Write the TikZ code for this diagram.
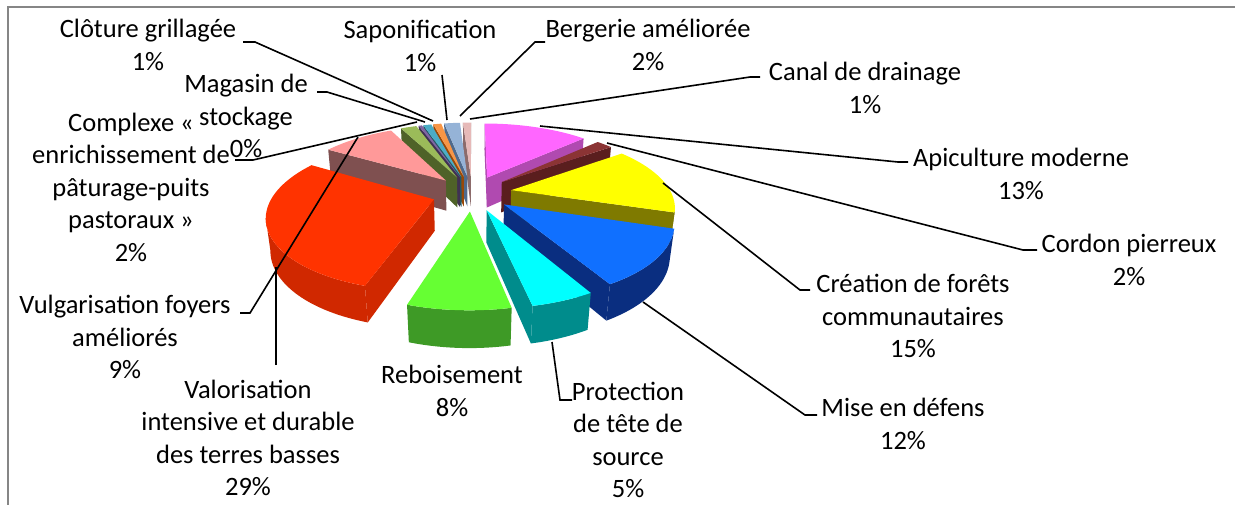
\documentclass[tikz,border=0pt]{standalone}
\usepackage{fontspec}
\setmainfont{Carlito}
\usetikzlibrary{calc}

\definecolor{apiTop}{HTML}{FF66FF}   \definecolor{apiSide}{HTML}{B04AB0}
\definecolor{corTop}{HTML}{8B3434}   \definecolor{corSide}{HTML}{5A1E1E}
\definecolor{creTop}{HTML}{FFFF00}   \definecolor{creSide}{HTML}{7F7A00}
\definecolor{misTop}{HTML}{1070FF}   \definecolor{misSide}{HTML}{0A2E80}
\definecolor{proTop}{HTML}{00FFFF}   \definecolor{proSide}{HTML}{008C8C}
\definecolor{rebTop}{HTML}{66FF33}   \definecolor{rebSide}{HTML}{3E9A26}
\definecolor{valTop}{HTML}{FF3300}   \definecolor{valSide}{HTML}{D02800}
\definecolor{vulTop}{HTML}{FF9999}   \definecolor{vulSide}{HTML}{7F5050}
\definecolor{comTop}{HTML}{9BBB59}   \definecolor{comSide}{HTML}{4F6228}
\definecolor{magTop}{HTML}{8064A2}   \definecolor{magSide}{HTML}{403152}
\definecolor{cloTop}{HTML}{4BACC6}   \definecolor{cloSide}{HTML}{215967}
\definecolor{sapTop}{HTML}{F79646}   \definecolor{sapSide}{HTML}{984807}
\definecolor{berTop}{HTML}{95B3D7}   \definecolor{berSide}{HTML}{4F6A8C}
\definecolor{canTop}{HTML}{E6B9B8}   \definecolor{canSide}{HTML}{8C6B6B}
\definecolor{frameGray}{HTML}{868686}

% one exploded slice: start angle, end angle, top colour, side colour
\newcommand{\pieslice}[4]{%
  \pgfmathsetmacro{\slMid}{(#1+#2)/2}%
  \pgfmathsetmacro{\slEx}{0.25*sin(\slMid)}%
  \pgfmathsetmacro{\slEz}{0.25*cos(\slMid)}%
  \coordinate (T) at ({scrx(\slEx,0,\slEz)},{scry(\slEx,0,\slEz)});
  \coordinate (B) at ({scrx(\slEx,-0.22,\slEz)},{scry(\slEx,-0.22,\slEz)});
  \coordinate (T1) at ({scrx(sin(#1)+\slEx,0,cos(#1)+\slEz)},{scry(sin(#1)+\slEx,0,cos(#1)+\slEz)});
  \coordinate (B1) at ({scrx(sin(#1)+\slEx,-0.22,cos(#1)+\slEz)},{scry(sin(#1)+\slEx,-0.22,cos(#1)+\slEz)});
  \coordinate (T2) at ({scrx(sin(#2)+\slEx,0,cos(#2)+\slEz)},{scry(sin(#2)+\slEx,0,cos(#2)+\slEz)});
  \coordinate (B2) at ({scrx(sin(#2)+\slEx,-0.22,cos(#2)+\slEz)},{scry(sin(#2)+\slEx,-0.22,cos(#2)+\slEz)});
  % rounded side, only the part turned to the viewer
  \pgfmathsetmacro{\slLo}{max(#1,104)}%
  \pgfmathsetmacro{\slHi}{min(#2,256)}%
  \ifdim\slLo pt<\slHi pt
    \fill[#4] plot[domain=\slLo:\slHi, samples=40] ({scrx(sin(\x)+\slEx,0,cos(\x)+\slEz)},{scry(sin(\x)+\slEx,0,cos(\x)+\slEz)})
      -- plot[domain=\slHi:\slLo, samples=40] ({scrx(sin(\x)+\slEx,-0.22,cos(\x)+\slEz)},{scry(sin(\x)+\slEx,-0.22,cos(\x)+\slEz)}) -- cycle;
  \fi
  % flat sides
  \pgfmathsetmacro{\slVa}{\slEx*cos(#1)-(4.05+\slEz)*sin(#1)}%
  \ifdim\slVa pt>0pt \fill[#4] (T) -- (T1) -- (B1) -- (B) -- cycle; \fi
  \pgfmathsetmacro{\slVb}{(4.05+\slEz)*sin(#2)-\slEx*cos(#2)}%
  \ifdim\slVb pt>0pt \fill[#4] (T) -- (T2) -- (B2) -- (B) -- cycle; \fi
  % top
  \fill[#3] (T) -- plot[domain=#1:#2, samples=40] ({scrx(sin(\x)+\slEx,0,cos(\x)+\slEz)},{scry(sin(\x)+\slEx,0,cos(\x)+\slEz)}) -- cycle;
}

\tikzset{
  lbl/.style={font={\fontsize{26.5}{32.5}\selectfont}, align=center, inner sep=0pt},
  lead/.style={black, line width=1.6pt},
}

\begin{document}
\begin{tikzpicture}[x=1pt, y=-1pt,
  declare function={scrx(\X,\Y,\Z)=472+720*\X/(4.5+0.9*\Z-0.44*\Y);
                    scry(\X,\Y,\Z)=193-720*(0.9*\Y+0.44*\Z)/(4.5+0.9*\Z-0.44*\Y);}]
\useasboundingbox (0,0) rectangle (1235,504);
\draw[frameGray, line width=1.8pt] (1240,7) -- (8,7) -- (8,510);

% slices, from the back to the front
\pieslice{356.4}{360}{canTop}{canSide}
\pieslice{349.3}{356.4}{berTop}{berSide}
\pieslice{345.7}{349.3}{sapTop}{sapSide}
\pieslice{342.1}{345.7}{cloTop}{cloSide}
\pieslice{340.6}{342.1}{magTop}{magSide}
\pieslice{333.5}{340.6}{comTop}{comSide}
\pieslice{0}{46.6}{apiTop}{apiSide}
\pieslice{301.2}{333.5}{vulTop}{vulSide}
\pieslice{46.6}{53.8}{corTop}{corSide}
\pieslice{53.8}{107.6}{creTop}{creSide}
\pieslice{197.2}{301.2}{valTop}{valSide}
\pieslice{107.6}{150.6}{misTop}{misSide}
\pieslice{150.6}{168.5}{proTop}{proSide}
\pieslice{168.5}{197.2}{rebTop}{rebSide}

% labels
\node[lbl] (lClo) at (148,45) {Clôture grillagée\\1\%};
\node[lbl] (lSap) at (420,46) {Saponification\\1\%};
\node[lbl] (lBer) at (648,45) {Bergerie améliorée\\2\%};
\node[lbl] (lCan) at (865,88) {Canal de drainage\\1\%};
\node[lbl] (lMag) at (246,116) {Magasin de\\stockage\\0\%};
\node[lbl] (lCom) at (131,187) {Complexe «\\enrichissement de\\pâturage-puits\\pastoraux »\\2\%};
\node[lbl] (lVul) at (125,337) {Vulgarisation foyers\\améliorés\\9\%};
\node[lbl] (lVal) at (248,438) {Valorisation\\intensive et durable\\des terres basses\\29\%};
\node[lbl] (lReb) at (452,391) {Reboisement\\8\%};
\node[lbl] (lPro) at (628,440) {Protection\\de tête de\\source\\5\%};
\node[lbl] (lMis) at (903,424) {Mise en défens\\12\%};
\node[lbl] (lCre) at (913,316) {Création de forêts\\communautaires\\15\%};
\node[lbl] (lCor) at (1129,260) {Cordon pierreux\\2\%};
\node[lbl] (lApi) at (1021,174) {Apiculture moderne\\13\%};

% leader lines
\coordinate (aClo) at (243,42);   \coordinate (sClo) at (433,121);
\coordinate (aSap) at (442,75);   \coordinate (sSap) at (447,120);
\coordinate (aBer) at (545,42);   \coordinate (sBer) at (460,116);
\coordinate (aCan) at (760,77);   \coordinate (sCan) at (470,119);
\coordinate (aMag) at (317,92);   \coordinate (sMag) at (425,122);
\coordinate (aCom) at (235,160);  \coordinate (sCom) at (417,122);
\coordinate (aVul) at (240,313);  \coordinate (sVul) at (358,137);
\coordinate (aVal) at (276,365);  \coordinate (sVal) at (276,267);
\coordinate (aPro) at (572,400);  \coordinate (sPro) at (552,342);
\coordinate (aMis) at (817,415);  \coordinate (sMis) at (643,302);
\coordinate (aCre) at (810,290);  \coordinate (sCre) at (663,183);
\coordinate (aCor) at (1037,250); \coordinate (sCor) at (607,143);
\coordinate (aApi) at (908,162);  \coordinate (sApi) at (540,126);

\draw[lead] (aClo) -- ++(12,0) -- (sClo);
\draw[lead] (aSap) -- (sSap);
\draw[lead] (aBer) -- ++(-10,0) -- (sBer);
\draw[lead] (aCan) -- ++(-10,0) -- (sCan);
\draw[lead] (aMag) -- ++(10,0) -- (sMag);
\draw[lead] (aCom) -- ++(18,0) -- (sCom);
\draw[lead] (aVul) -- ++(10,0) -- (sVul);
\draw[lead] (aVal) -- (sVal);
\draw[lead] (aPro) -- ++(-12,0) -- (sPro);
\draw[lead] (aMis) -- ++(-12,0) -- (sMis);
\draw[lead] (aCre) -- ++(-10,0) -- (sCre);
\draw[lead] (aCor) -- ++(-14,0) -- (sCor);
\draw[lead] (aApi) -- ++(-10,0) -- (sApi);
\end{tikzpicture}
\end{document}
